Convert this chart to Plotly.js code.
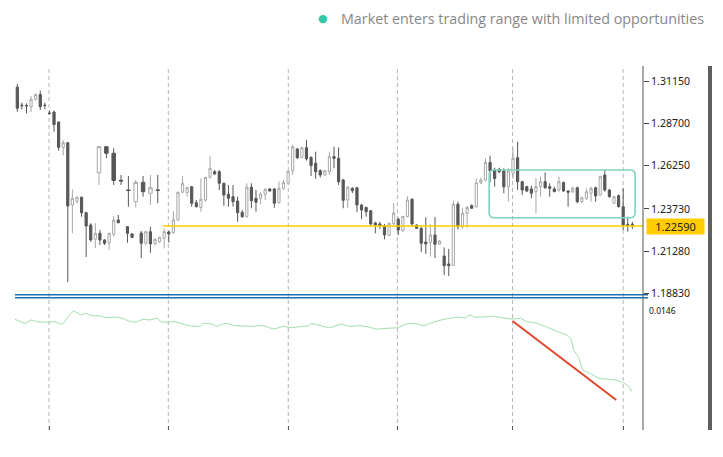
<!DOCTYPE html>
<html>
<head>
<meta charset="utf-8">
<script src="https://cdn.plot.ly/plotly-3.0.1.min.js"></script>
<style>
  html, body { margin: 0; padding: 0; background: #ffffff; }
  #chart { width: 723px; height: 457px; }
</style>
</head>
<body>
<div id="chart"></div>
<script>
// ---------------- DATA ----------------
// main price series (bar index, OHLC)
const barIdx = [0,1,2,3,4,5,6,7,8,9,10,11,12,13,14,15,16,17,18,19,20,21,22,24,25,27,28,29,30,31,32,33,34,35,36,37,38,39,40,41,42,43,44,45,46,47,48,49,50,51,52,53,54,55,56,57,58,59,60,61,62,63,64,65,66,67,68,69,70,71,72,73,74,75,76,77,78,79,80,81,82,83,84,85,86,87,88,89,90,91,92,93,94,95,96,97,98,99,100,101,102,103,104,105,106,107,108,109,110,111,112,113,114,115,116,117,118,119,120,121,122,123,124,125,126,127,128,129,130,131,132,133,134];
const openP = [1.3079,1.2975,1.2973,1.2966,1.3009,1.3036,1.2975,1.2929,1.2935,1.2877,1.2730,1.2757,1.2396,1.2417,1.2441,1.2351,1.2280,1.2197,1.2232,1.2193,1.2177,1.2226,1.2309,1.2270,1.2228,1.2233,1.2174,1.2241,1.2170,1.2183,1.2203,1.2239,1.2235,1.2309,1.2470,1.2467,1.2502,1.2409,1.2382,1.2425,1.2556,1.2589,1.2589,1.2522,1.2458,1.2444,1.2419,1.2353,1.2328,1.2499,1.2435,1.2435,1.2458,1.2489,1.2489,1.2409,1.2493,1.2522,1.2593,1.2721,1.2670,1.2728,1.2672,1.2638,1.2595,1.2570,1.2589,1.2677,1.2667,1.2541,1.2425,1.2493,1.2496,1.2396,1.2382,1.2363,1.2291,1.2286,1.2277,1.2219,1.2287,1.2313,1.2247,1.2328,1.2429,1.2280,1.2261,1.2181,1.2178,1.2222,1.2168,1.2100,1.2054,1.2045,1.2400,1.2270,1.2348,1.2392,1.2386,1.2525,1.2541,1.2643,1.2599,1.2603,1.2593,1.2502,1.2580,1.2670,1.2531,1.2502,1.2489,1.2473,1.2502,1.2531,1.2502,1.2489,1.2483,1.2527,1.2477,1.2473,1.2496,1.2415,1.2435,1.2464,1.2496,1.2454,1.2570,1.2483,1.2406,1.2450,1.2386,1.2284,1.2284];
const highP = [1.3098,1.2989,1.2986,1.3028,1.3044,1.3059,1.2989,1.2943,1.2943,1.2879,1.2773,1.2758,1.2487,1.2444,1.2444,1.2357,1.2290,1.2290,1.2251,1.2197,1.2235,1.2332,1.2338,1.2272,1.2232,1.2245,1.2247,1.2270,1.2203,1.2212,1.2261,1.2247,1.2361,1.2473,1.2564,1.2502,1.2506,1.2425,1.2550,1.2560,1.2680,1.2599,1.2599,1.2525,1.2512,1.2512,1.2444,1.2367,1.2522,1.2522,1.2483,1.2470,1.2493,1.2493,1.2493,1.2531,1.2541,1.2599,1.2744,1.2725,1.2734,1.2773,1.2678,1.2705,1.2603,1.2599,1.2705,1.2734,1.2730,1.2547,1.2506,1.2499,1.2499,1.2402,1.2386,1.2364,1.2299,1.2299,1.2286,1.2293,1.2407,1.2323,1.2332,1.2446,1.2435,1.2283,1.2267,1.2324,1.2284,1.2326,1.2193,1.2150,1.2141,1.2421,1.2415,1.2378,1.2392,1.2400,1.2550,1.2554,1.2666,1.2682,1.2612,1.2612,1.2609,1.2609,1.2725,1.2763,1.2535,1.2508,1.2508,1.2554,1.2560,1.2585,1.2522,1.2502,1.2560,1.2531,1.2483,1.2502,1.2502,1.2444,1.2493,1.2502,1.2502,1.2566,1.2599,1.2489,1.2448,1.2457,1.2493,1.2328,1.2299];
const lowP = [1.2937,1.2951,1.2928,1.2935,1.3001,1.2947,1.2951,1.2920,1.2821,1.2711,1.2684,1.1949,1.2232,1.2406,1.2328,1.2094,1.2183,1.2145,1.2164,1.2164,1.2135,1.2212,1.2290,1.2177,1.2203,1.2087,1.2164,1.2119,1.2164,1.2177,1.2145,1.2177,1.2228,1.2305,1.2464,1.2444,1.2386,1.2382,1.2357,1.2415,1.2550,1.2570,1.2483,1.2392,1.2386,1.2386,1.2299,1.2322,1.2322,1.2377,1.2357,1.2400,1.2425,1.2473,1.2380,1.2406,1.2483,1.2512,1.2570,1.2663,1.2667,1.2654,1.2564,1.2548,1.2555,1.2564,1.2570,1.2609,1.2512,1.2377,1.2377,1.2465,1.2355,1.2315,1.2328,1.2274,1.2232,1.2257,1.2197,1.2216,1.2280,1.2222,1.2241,1.2325,1.2268,1.2257,1.2123,1.2112,1.2096,1.2088,1.2164,1.1990,1.1984,1.2042,1.2254,1.2260,1.2264,1.2373,1.2380,1.2516,1.2531,1.2527,1.2502,1.2580,1.2464,1.2415,1.2550,1.2483,1.2454,1.2470,1.2435,1.2348,1.2444,1.2489,1.2444,1.2470,1.2473,1.2473,1.2386,1.2464,1.2406,1.2406,1.2425,1.2415,1.2415,1.2450,1.2473,1.2439,1.2402,1.2381,1.2251,1.2241,1.2257];
const closeP = [1.2957,1.2972,1.2971,1.3009,1.3036,1.2966,1.2973,1.2927,1.2862,1.2730,1.2757,1.2390,1.2435,1.2441,1.2351,1.2274,1.2193,1.2232,1.2193,1.2174,1.2232,1.2309,1.2293,1.2232,1.2208,1.2174,1.2241,1.2170,1.2197,1.2208,1.2241,1.2228,1.2309,1.2470,1.2522,1.2496,1.2406,1.2386,1.2429,1.2556,1.2609,1.2576,1.2522,1.2454,1.2435,1.2415,1.2351,1.2328,1.2499,1.2421,1.2412,1.2458,1.2487,1.2477,1.2406,1.2493,1.2527,1.2589,1.2734,1.2670,1.2728,1.2663,1.2624,1.2589,1.2570,1.2595,1.2676,1.2666,1.2531,1.2423,1.2499,1.2479,1.2396,1.2367,1.2357,1.2286,1.2280,1.2274,1.2222,1.2290,1.2349,1.2251,1.2330,1.2425,1.2286,1.2261,1.2174,1.2170,1.2222,1.2168,1.2187,1.2044,1.2044,1.2400,1.2270,1.2348,1.2381,1.2377,1.2525,1.2541,1.2643,1.2593,1.2550,1.2589,1.2502,1.2593,1.2667,1.2531,1.2483,1.2477,1.2464,1.2502,1.2531,1.2496,1.2493,1.2473,1.2531,1.2477,1.2470,1.2493,1.2415,1.2438,1.2473,1.2493,1.2448,1.2560,1.2483,1.2444,1.2444,1.2386,1.2280,1.2276,1.2276];

// second, wider-spaced group of candles overlaid in the first session
const overlayIdx = [17.8,19.4,21.0,22.6,24.2,25.8,27.4,29.0,30.6];
const overlayOpen = [1.2583,1.2734,1.2696,1.2539,1.2483,1.2415,1.2527,1.2464,1.2483];
const overlayHigh = [1.2738,1.2738,1.2725,1.2570,1.2564,1.2541,1.2564,1.2570,1.2570];
const overlayLow = [1.2512,1.2667,1.2512,1.2512,1.2386,1.2382,1.2444,1.2396,1.2406];
const overlayClose = [1.2734,1.2696,1.2538,1.2535,1.2480,1.2527,1.2473,1.2496,1.2481];

// price axis labels
const priceTicks = [1.3115, 1.2870, 1.2625, 1.2373, 1.2128, 1.1883];
const priceTickText = ['1.31150', '1.28700', '1.26250', '1.23730', '1.21280', '1.18830'];

// current price line and its label
const currentPriceLevel = 1.2274;
const currentPriceText = '1.22590';
const currentPriceFromBar = 31.7;

// two horizontal support levels at the bottom of the price window
const supportLevels = [1.18755, 1.18581];

// session separators (bar index)
const sessionBreaks = [6.91, 32.9, 59.04, 82.8, 107.9, 132.0];

// trading range box
const rangeBox = { fromBar: 102.8, toBar: 134.6, top: 1.2599, bottom: 1.2322 };

// indicator window
const indX = [-0.57,1.74,3.05,4.27,6.78,8.28,9.78,10.78,12.29,13.79,14.81,16.32,17.8,19.32,21.33,22.83,24.34,25.86,27.36,28.87,30.37,31.37,32.88,34.38,37.39,39.91,40.41,42.42,43.42,45.42,47.43,50.96,53.46,55.97,57.97,59.48,61.48,63.51,63.99,65.51,68.02,70.52,72.53,74.53,76.56,78.06,80.57,82.77,84.58,86.58,88.61,90.61,92.62,95.62,97.63,98.63,99.65,101.15,102.66,103.66,105.66,107.78,109.67,110.68,113.2,115.71,117.71,119.72,120.52,121.22,122.22,123.25,124.75,126.75,128.76,130.26,132.27,133.27,133.77,133.99];
const indY = [0.01266,0.01217,0.01255,0.01235,0.01229,0.01235,0.01206,0.01274,0.01357,0.01312,0.01331,0.01304,0.01304,0.01281,0.01289,0.01274,0.01243,0.01229,0.01263,0.01255,0.01274,0.01235,0.01229,0.01235,0.01190,0.01183,0.01217,0.01206,0.01183,0.01217,0.01190,0.01183,0.01190,0.01152,0.01183,0.01167,0.01178,0.01190,0.01213,0.01198,0.01167,0.01206,0.01183,0.01190,0.01175,0.01152,0.01160,0.01167,0.01206,0.01217,0.01190,0.01229,0.01258,0.01286,0.01281,0.01312,0.01286,0.01289,0.01292,0.01297,0.01281,0.01266,0.01274,0.01243,0.01217,0.01167,0.01121,0.01084,0.01046,0.00913,0.00836,0.00685,0.00647,0.00590,0.00579,0.00571,0.00533,0.00494,0.00445,0.00457];
const indMaxLabel = '0.0146';
const trendX = [107.9, 130.5];
const trendY = [0.01243, 0.00343];

const legendText = 'Market enters trading range with limited opportunities';

// ---------------- STYLE ----------------
const DARK = '#575757';
const LIGHT = '#a8a8a8';
const TEAL = '#7fd3c0';
const TEAL_DOT = '#35c7a3';
const XR = [-3.77, 136.32];

const candleStyle = {
  type: 'candlestick',
  increasing: { line: { color: LIGHT, width: 1 }, fillcolor: '#ffffff' },
  decreasing: { line: { color: DARK, width: 1 }, fillcolor: DARK },
  whiskerwidth: 0,
  hoverinfo: 'skip',
  showlegend: false
};

const traces = [
  Object.assign({}, candleStyle, {
    x: barIdx, open: openP, high: highP, low: lowP, close: closeP,
    xaxis: 'x', yaxis: 'y'
  }),
  Object.assign({}, candleStyle, {
    x: overlayIdx, open: overlayOpen, high: overlayHigh, low: overlayLow, close: overlayClose,
    xaxis: 'x2', yaxis: 'y'
  }),
  {
    type: 'scatter', mode: 'lines', x: indX, y: indY, xaxis: 'x', yaxis: 'y2',
    line: { color: '#9fdcaa', width: 1, shape: 'spline', smoothing: 0.4 },
    hoverinfo: 'skip', showlegend: false
  },
  {
    type: 'scatter', mode: 'lines', x: trendX, y: trendY, xaxis: 'x', yaxis: 'y2',
    line: { color: '#e0462a', width: 2 }, hoverinfo: 'skip', showlegend: false
  }
];

function roundedRect(b) {
  const rx = 1.1, ry = 0.0029;
  const x0 = b.fromBar, x1 = b.toBar, yt = b.top, yb = b.bottom;
  return `M ${x0 + rx},${yt} L ${x1 - rx},${yt} Q ${x1},${yt} ${x1},${yt - ry} ` +
         `L ${x1},${yb + ry} Q ${x1},${yb} ${x1 - rx},${yb} L ${x0 + rx},${yb} ` +
         `Q ${x0},${yb} ${x0},${yb + ry} L ${x0},${yt - ry} Q ${x0},${yt} ${x0 + rx},${yt} Z`;
}

const shapes = [];
sessionBreaks.forEach(b => shapes.push({
  type: 'line', xref: 'x', yref: 'paper', x0: b, x1: b, y0: 0, y1: 1,
  line: { color: '#b5b5b5', width: 1, dash: '4px,3px' }, layer: 'below'
}));
supportLevels.forEach(v => shapes.push({
  type: 'line', xref: 'paper', yref: 'y', x0: 15 / 643, x1: 648 / 643, y0: v, y1: v,
  line: { color: '#1f6fb2', width: 1.6 }
}));
shapes.push({
  type: 'line', xref: 'x', yref: 'y', x0: currentPriceFromBar, x1: XR[1],
  y0: currentPriceLevel, y1: currentPriceLevel, line: { color: '#ffcc00', width: 1.5 }
});
shapes.push({
  type: 'path', xref: 'x', yref: 'y', path: roundedRect(rangeBox),
  line: { color: TEAL, width: 1.6 }
});
// right price scale border and right-hand bar
shapes.push({ type: 'line', xref: 'paper', yref: 'paper', x0: 1, x1: 1, y0: 0, y1: 1,
  line: { color: '#555555', width: 1 } });
shapes.push({ type: 'rect', xref: 'paper', yref: 'paper', x0: 708 / 643, x1: 712 / 643, y0: 0, y1: 1,
  fillcolor: '#5f5f5f', line: { width: 0 } });

const annotations = [
  { xref: 'paper', yref: 'y', x: 1, y: currentPriceLevel, xanchor: 'left', yanchor: 'middle',
    xshift: 3, text: currentPriceText, showarrow: false, bgcolor: '#ffcc00',
    width: 55, height: 13, borderpad: 1,
    font: { family: 'Noto Sans, sans-serif', size: 11, color: '#222222' } },
  { xref: 'paper', yref: 'y2', x: 1, y: 0.0146, xanchor: 'left', yanchor: 'top',
    xshift: 4, yshift: -1, text: indMaxLabel, showarrow: false,
    font: { family: 'Noto Sans, sans-serif', size: 8.5, color: '#111111' } },
  { xref: 'paper', yref: 'paper', x: 323 / 643, y: (430 - 18) / 364, xanchor: 'center', yanchor: 'middle',
    text: '●', showarrow: false, font: { family: 'DejaVu Sans, sans-serif', size: 11, color: TEAL_DOT } },
  { xref: 'paper', yref: 'paper', x: 339 / 643, y: (430 - 18) / 364, xanchor: 'left', yanchor: 'middle',
    text: legendText, showarrow: false,
    font: { family: 'Open Sans, sans-serif', size: 14.3, color: '#888888' } }
];

const layout = {
  width: 723, height: 457,
  margin: { l: 0, r: 80, t: 66, b: 27, pad: 0 },
  paper_bgcolor: '#ffffff', plot_bgcolor: '#ffffff',
  showlegend: false,
  boxgap: 0.32,
  xaxis: {
    range: XR, anchor: 'y2', domain: [0, 1],
    showgrid: false, zeroline: false, showline: false, showticklabels: false,
    tickmode: 'array', tickvals: sessionBreaks, ticks: 'inside', ticklen: 4,
    tickcolor: '#555555', tickwidth: 1,
    rangeslider: { visible: false }, fixedrange: true
  },
  xaxis2: {
    range: XR, overlaying: 'x', anchor: 'y', visible: false,
    rangeslider: { visible: false }, fixedrange: true
  },
  yaxis: {
    domain: [130 / 364, 1], range: [1.18448, 1.3202], side: 'right', anchor: 'x',
    showgrid: false, zeroline: false, showline: false,
    tickmode: 'array', tickvals: priceTicks, ticktext: priceTickText,
    ticks: 'outside', ticklen: 5, tickcolor: '#444444', tickwidth: 1,
    tickfont: { family: 'Noto Sans, sans-serif', size: 10.5, color: '#222222' },
    fixedrange: true
  },
  yaxis2: {
    domain: [0, 128 / 364], range: [0, 0.0146], anchor: 'x',
    showgrid: false, zeroline: false, showline: false, showticklabels: false, ticks: '',
    fixedrange: true
  },
  shapes: shapes,
  annotations: annotations
};

Plotly.newPlot('chart', traces, layout, { staticPlot: true, displayModeBar: false });
</script>
</body>
</html>
